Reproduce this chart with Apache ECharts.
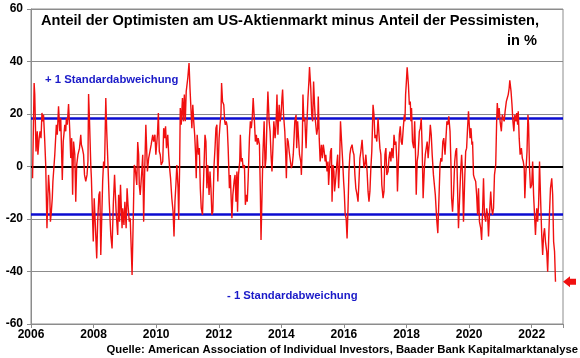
<!DOCTYPE html>
<html><head><meta charset="utf-8">
<script src="https://cdn.jsdelivr.net/npm/echarts@6.0.0/dist/echarts.min.js"></script>
<style>html,body{margin:0;padding:0;background:#fff}#c{width:580px;height:358px}</style>
</head><body><div id="c"></div>
<script>
// ---- data ----
const weeks = [
2006.05,2006.10,2006.12,2006.16,2006.20,2006.22,2006.26,2006.29,2006.32,2006.35,2006.38,2006.40,2006.44,2006.47,2006.51,2006.54,2006.56,2006.60,2006.62,2006.65,2006.68,2006.70,2006.76,2006.81,2006.84,2006.88,2006.92,2006.95,2006.97,
2007.00,2007.03,2007.08,2007.11,2007.13,2007.16,2007.20,2007.24,2007.27,2007.30,2007.33,2007.36,2007.40,2007.43,2007.46,2007.50,2007.55,2007.59,2007.61,2007.64,2007.68,2007.71,2007.75,2007.79,2007.82,2007.84,2007.87,2007.91,2007.93,2007.96,2007.99,
2008.02,2008.06,2008.10,2008.13,2008.17,2008.20,2008.23,2008.26,2008.29,2008.32,2008.35,2008.39,2008.42,2008.46,2008.50,2008.55,2008.59,2008.63,2008.67,2008.72,2008.77,2008.80,2008.83,2008.86,2008.91,2008.93,2008.97,
2009.00,2009.04,2009.07,2009.10,2009.14,2009.17,2009.21,2009.23,2009.27,2009.30,2009.33,2009.38,2009.41,2009.44,2009.46,2009.49,2009.54,2009.57,2009.60,2009.63,2009.67,2009.72,2009.76,2009.80,2009.84,2009.89,2009.92,2009.96,2009.99,
2010.04,2010.07,2010.10,2010.13,2010.16,2010.21,2010.24,2010.27,2010.30,2010.33,2010.37,2010.40,2010.43,2010.46,2010.50,2010.54,2010.57,2010.60,2010.63,2010.66,2010.70,2010.72,2010.75,2010.77,2010.80,2010.84,2010.87,2010.90,2010.93,2010.96,
2011.01,2011.05,2011.08,2011.11,2011.14,2011.17,2011.20,2011.23,2011.26,2011.28,2011.31,2011.35,2011.38,2011.41,2011.44,2011.48,2011.53,2011.56,2011.59,2011.62,2011.65,2011.69,2011.72,2011.75,2011.78,2011.81,2011.85,2011.88,2011.91,2011.94,2011.97,
2012.01,2012.04,2012.07,2012.09,2012.12,2012.16,2012.19,2012.21,2012.24,2012.27,2012.30,2012.34,2012.37,2012.40,2012.42,2012.45,2012.49,2012.52,2012.55,2012.58,2012.60,2012.63,2012.67,2012.69,2012.72,2012.75,2012.78,2012.82,2012.85,2012.88,2012.91,2012.94,2012.98,
2013.01,2013.04,2013.07,2013.10,2013.14,2013.17,2013.20,2013.23,2013.26,2013.30,2013.33,2013.35,2013.38,2013.41,2013.45,2013.48,2013.51,2013.54,2013.57,2013.61,2013.64,2013.67,2013.70,2013.73,2013.76,2013.80,2013.83,2013.86,2013.89,2013.93,2013.96,2013.99,
2014.02,2014.04,2014.07,2014.11,2014.14,2014.16,2014.19,2014.22,2014.25,2014.29,2014.32,2014.35,2014.38,2014.40,2014.43,2014.47,2014.49,2014.52,2014.55,2014.58,2014.62,2014.64,2014.67,2014.69,2014.72,2014.75,2014.79,2014.82,2014.85,2014.88,2014.90,2014.94,2014.97,
2015.00,2015.03,2015.06,2015.09,2015.13,2015.16,2015.18,2015.21,2015.24,2015.28,2015.31,2015.34,2015.37,2015.40,2015.42,2015.46,2015.49,2015.51,2015.54,2015.57,2015.60,2015.62,2015.65,2015.68,2015.70,2015.73,2015.77,2015.80,2015.83,2015.86,2015.89,2015.93,2015.96,2015.99,
2016.01,2016.04,2016.07,2016.10,2016.13,2016.16,2016.19,2016.22,2016.26,2016.29,2016.32,2016.35,2016.38,2016.42,2016.45,2016.48,2016.51,2016.54,2016.58,2016.61,2016.64,2016.67,2016.70,2016.74,2016.77,2016.80,2016.83,2016.86,2016.89,2016.93,2016.96,2016.99,
2017.02,2017.05,2017.09,2017.12,2017.15,2017.18,2017.21,2017.25,2017.28,2017.31,2017.34,2017.37,2017.41,2017.44,2017.47,2017.50,2017.53,2017.57,2017.60,2017.63,2017.66,2017.69,2017.71,2017.75,2017.77,2017.80,2017.83,2017.86,2017.90,2017.93,2017.95,2017.97,2017.99,
2018.02,2018.06,2018.09,2018.12,2018.14,2018.16,2018.19,2018.23,2018.26,2018.29,2018.31,2018.34,2018.37,2018.41,2018.44,2018.47,2018.50,2018.53,2018.57,2018.60,2018.63,2018.66,2018.69,2018.73,2018.76,2018.79,2018.82,2018.86,2018.89,2018.92,2018.95,2018.97,
2019.00,2019.04,2019.07,2019.10,2019.13,2019.16,2019.19,2019.23,2019.26,2019.29,2019.32,2019.35,2019.39,2019.42,2019.44,2019.47,2019.50,2019.54,2019.57,2019.60,2019.63,2019.66,2019.70,2019.73,2019.76,2019.79,2019.82,2019.86,2019.89,2019.92,2019.95,2019.98,
2020.03,2020.06,2020.09,2020.11,2020.14,2020.17,2020.21,2020.24,2020.27,2020.30,2020.33,2020.37,2020.40,2020.43,2020.46,2020.49,2020.53,2020.56,2020.59,2020.62,2020.65,2020.69,2020.72,2020.75,2020.78,2020.81,2020.85,2020.88,2020.90,2020.93,2020.96,2020.99,
2021.03,2021.06,2021.09,2021.12,2021.15,2021.19,2021.22,2021.25,2021.28,2021.30,2021.34,2021.37,2021.40,2021.43,2021.46,2021.50,2021.52,2021.55,2021.57,2021.60,2021.63,2021.67,2021.70,2021.73,2021.76,2021.78,2021.81,2021.85,2021.88,2021.90,2021.93,2021.96,
2022.00,2022.03,2022.06,2022.09,2022.12,2022.16,2022.19,2022.22,2022.25,2022.28,2022.32,2022.35,2022.38,2022.41,2022.44,2022.48,2022.51,2022.54,2022.57,2022.60,2022.64,2022.67,2022.70,2022.73,2022.76
];
const spread = [
-4.5,31.8,27.4,5.7,13.4,4.5,10.8,13.4,10.8,20.4,17.2,19.7,9.5,0.6,-23.5,-10.8,-3.2,-10.8,-21.0,-17.2,-12.1,-5.7,4.5,15.9,12.1,22.9,13.4,18.4,9.5,
-5.1,9.5,15.9,13.4,18.4,15.9,23.8,13.4,3.2,10.8,-10.8,9.5,4.5,-13.4,0.6,4.5,7.0,12.1,8.3,7.0,4.5,-3.2,-5.7,-3.2,1.9,27.6,17.2,0.6,-4.5,-17.2,-28.6,
-12.1,-23.5,-35.0,-21.0,-10.8,-9.5,-33.7,-33.7,-5.7,1.9,-0.6,26.1,13.4,0.6,-13.4,-26.1,-31.2,-14.6,-3.2,-17.2,-26.1,-10.8,-21.0,-7.0,-23.5,-15.9,-22.3,
-13.4,-23.5,-8.3,-14.6,-21.0,-19.7,-33.7,-41.3,-18.4,0.6,-0.6,-7.0,9.3,4.5,-7.0,-10.8,-1.9,4.5,-21.0,-3.2,15.9,-1.9,3.2,5.7,8.3,12.1,9.5,12.1,4.5,
12.1,20.4,5.7,4.5,0.6,1.9,14.6,10.8,15.3,7.0,12.1,4.5,-0.6,-4.5,-12.1,-17.2,-26.7,-13.4,-7.0,0.6,-8.3,-20.4,0.6,22.3,15.9,26.1,17.2,27.4,17.2,28.6,
33.7,39.4,29.9,22.3,14.6,23.5,17.2,12.1,4.5,-4.5,12.1,4.5,7.0,-8.3,-15.9,-18.4,0.6,12.1,9.5,-8.3,0.6,-10.8,-1.9,-8.3,-18.4,-17.2,0.6,7.0,14.6,15.9,-5.7,
10.8,15.9,19.7,31.8,24.8,23.5,17.2,15.9,17.2,15.3,7.0,-8.3,-3.2,-13.4,-19.7,-10.8,-5.7,-3.2,-13.4,-1.9,-17.2,-3.2,1.9,12.1,1.9,3.2,-0.6,0.6,-14.6,-10.8,-13.4,-4.5,10.8,
17.2,14.6,18.4,26.1,17.2,9.5,12.1,8.3,10.8,8.3,-10.8,-28.0,-12.1,4.5,17.2,-0.6,3.2,17.2,28.6,17.2,13.4,4.5,-1.9,7.0,17.2,10.8,15.9,27.4,12.1,23.5,17.2,19.7,
26.1,29.3,19.7,13.4,4.5,-4.5,10.8,9.5,5.7,1.9,-0.6,0.6,4.5,9.5,17.2,19.7,7.0,17.2,10.8,4.5,1.9,-3.2,9.5,27.4,17.2,18.4,7.0,17.2,26.1,32.4,37.9,29.9,19.7,
17.2,32.4,23.5,17.2,12.1,14.6,26.7,10.8,1.9,8.3,3.2,8.3,5.7,1.9,4.5,-1.9,1.9,-7.0,-0.6,5.7,7.0,-13.4,0.6,-1.9,-9.5,-5.7,0.6,4.5,-8.3,0.6,17.2,8.3,1.9,-5.7,
-9.5,-18.4,-19.7,-27.4,-15.9,-1.9,4.5,7.0,8.3,5.7,4.5,-3.2,-8.3,-10.8,-13.4,-5.7,3.2,5.7,10.2,4.5,-0.6,0.6,4.5,-1.9,-9.5,-13.4,-9.5,-0.6,5.7,23.5,19.7,10.8,
12.1,9.5,18.4,12.1,7.0,4.5,-7.0,-12.1,-9.5,4.5,7.0,-3.2,-1.9,3.2,5.7,1.9,7.0,3.2,12.1,8.3,9.5,1.9,-9.5,4.5,12.1,15.3,9.5,8.3,15.3,19.7,17.2,27.4,31.2,
37.8,31.2,23.5,24.8,17.2,22.3,9.5,7.0,17.2,3.2,-10.8,1.9,4.5,13.4,14.6,18.4,7.0,-12.1,-0.6,4.5,4.5,9.5,3.2,9.5,15.9,12.1,4.5,-3.2,-7.0,-10.8,-17.2,-21.0,
-25.4,-10.8,0.6,3.2,1.9,9.5,10.8,4.5,10.8,17.2,15.9,19.1,13.4,0.6,-12.1,-17.2,-10.8,1.9,5.7,7.0,-8.3,-23.5,-10.8,-1.9,4.5,-3.2,-21.0,-4.5,5.7,7.0,14.6,21.0,
10.8,14.6,8.3,9.5,-3.2,-4.5,-5.7,-10.8,-18.4,-8.3,-21.0,-23.5,-28.0,-17.2,-4.5,-18.4,-21.0,-15.9,-18.4,-26.7,-18.4,-9.5,-15.9,-18.4,-15.9,-3.2,0.6,17.2,24.2,18.4,22.3,17.2,
13.4,19.7,18.4,17.2,21.0,24.8,26.1,27.4,29.9,32.8,28.6,23.5,17.2,13.4,19.7,17.2,20.4,15.9,21.0,10.8,4.5,7.0,3.2,1.9,-0.6,-12.1,-3.2,5.7,19.7,15.9,-0.6,-8.3,
-7.0,1.9,-10.8,-18.4,-26.1,-15.9,-21.0,-14.6,1.9,-10.8,-26.1,-33.7,-26.1,-23.5,-28.6,-32.4,-40.1,-28.6,-17.2,-8.3,-4.5,-10.8,-28.6,-32.4,-43.9
];
const stdPlus = 18.2;
const stdMinus = -18.3;
const yTicks = [-60, -40, -20, 0, 20, 40, 60];
const xTickYears = [2006, 2008, 2010, 2012, 2014, 2016, 2018, 2020, 2022];
const titleText = ['Anteil der Optimisten am US-Aktienmarkt minus Anteil der Pessimisten,', 'in %'];
const stdLabels = ['+ 1 Standardabweichung', '- 1 Standardabweichung'];
const sourceText = 'Quelle: American Association of Individual Investors, Baader Bank Kapitalmarktanalyse';

const FONT = '"Liberation Sans", Arial, sans-serif';
const chart = echarts.init(document.getElementById('c'), null, {renderer: 'canvas'});
const seriesData = weeks.map((w, i) => [w, spread[i]]);
const GRAY = '#8c8c8c';
const BLUE = '#0c0cd0';
const RED = '#f01010';

chart.setOption({
  animation: false,
  backgroundColor: '#ffffff',
  grid: {left: 31, right: 17, top: 9, bottom: 34, show: true, borderColor: GRAY, borderWidth: 1},
  xAxis: {
    type: 'value', min: 2006, max: 2023, interval: 2,
    axisLine: {show: true, onZero: false, lineStyle: {color: GRAY, width: 1}},
    axisTick: {show: true, inside: false, length: 4, lineStyle: {color: GRAY}},
    splitLine: {show: false},
    axisLabel: {
      color: '#000', fontFamily: FONT, fontWeight: 'bold', fontSize: 12, margin: 5,
      formatter: v => xTickYears.indexOf(v) >= 0 ? String(v) : ''
    }
  },
  yAxis: {
    type: 'value', min: yTicks[0], max: yTicks[yTicks.length - 1], interval: 20,
    axisLine: {show: true, lineStyle: {color: GRAY, width: 1}},
    axisTick: {show: true, inside: false, length: 4, lineStyle: {color: GRAY}},
    splitLine: {show: true, lineStyle: {color: GRAY, width: 1}},
    axisLabel: {color: '#000', fontFamily: FONT, fontWeight: 'bold', fontSize: 12, margin: 8}
  },
  series: [{
    type: 'line',
    data: seriesData,
    showSymbol: false,
    symbol: 'none',
    lineStyle: {color: RED, width: 1.4},
    z: 3,
    markLine: {
      silent: true, symbol: 'none', label: {show: false},
      data: [
        {yAxis: 0, lineStyle: {color: '#000', width: 2.2, type: 'solid'}},
        {yAxis: stdPlus, lineStyle: {color: BLUE, width: 2.6, type: 'solid'}},
        {yAxis: stdMinus, lineStyle: {color: BLUE, width: 2.6, type: 'solid'}}
      ],
      z: 2
    }
  }]
});

// red arrow pointing at the latest value, just right of the plot area
const lastPt = chart.convertToPixel({gridIndex: 0}, [2023, spread[spread.length - 1]]);
const ax = lastPt[0], ay = lastPt[1];
chart.setOption({
  graphic: [
    {id: 't1', type: 'text', z: 10, style: {text: titleText[0], x: 539, y: 21, align: 'right', verticalAlign: 'middle', font: 'bold 14.6px ' + FONT, fill: '#000'}},
    {id: 't2', type: 'text', z: 10, style: {text: titleText[1], x: 537, y: 41, align: 'right', verticalAlign: 'middle', font: 'bold 14.6px ' + FONT, fill: '#000'}},
    {id: 's1', type: 'text', z: 10, style: {text: stdLabels[0], x: 45, y: 80, align: 'left', verticalAlign: 'middle', font: 'bold 11.3px ' + FONT, fill: '#1a1ac8'}},
    {id: 's2', type: 'text', z: 10, style: {text: stdLabels[1], x: 227, y: 296, align: 'left', verticalAlign: 'middle', font: 'bold 11.3px ' + FONT, fill: '#1a1ac8'}},
    {id: 'src', type: 'text', z: 10, style: {text: sourceText, x: 578, y: 350, align: 'right', verticalAlign: 'middle', font: 'bold 11.3px ' + FONT, fill: '#000'}},
    {id: 'arrow', type: 'polygon', z: 10, shape: {points: [[ax, ay], [ax + 7, ay - 5.5], [ax + 7, ay - 3], [ax + 13, ay - 3], [ax + 13, ay + 3], [ax + 7, ay + 3], [ax + 7, ay + 5.5]]}, style: {fill: RED}}
  ]
});
</script>
</body></html>
